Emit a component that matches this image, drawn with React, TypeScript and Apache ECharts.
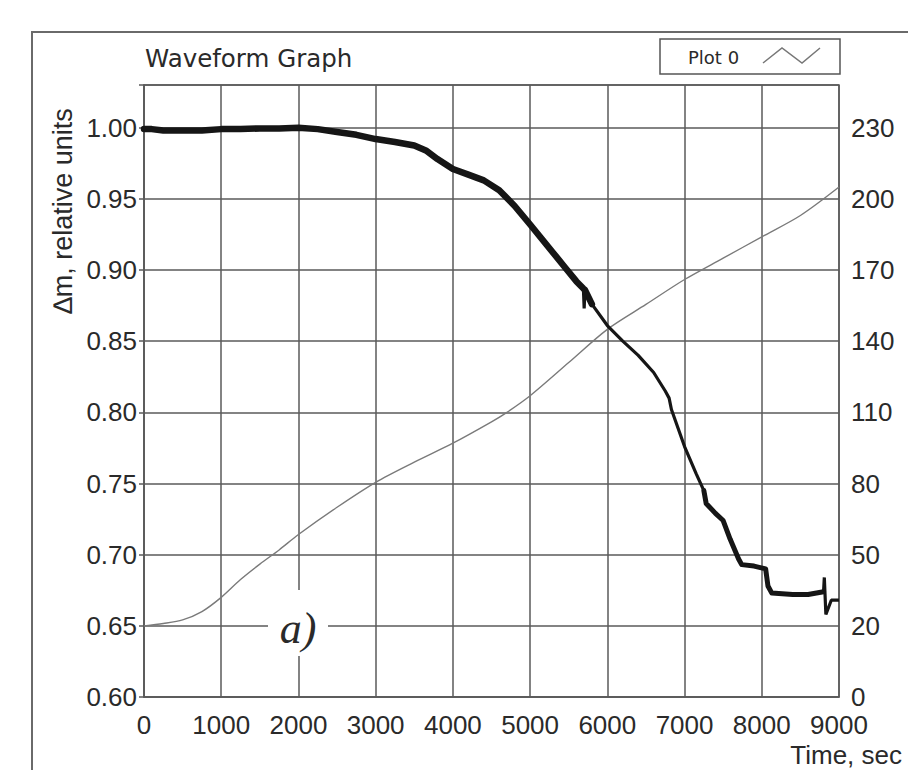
import React, { useEffect, useRef } from "react";
import * as echarts from "echarts";

// Mass loss (left axis), time in seconds
const massTime = [0, 100, 250, 500, 750, 1000, 1250, 1500, 1750, 2000, 2250, 2500, 2750, 3000, 3250, 3500, 3650, 3800, 4000, 4200, 4400, 4600, 4800, 5000, 5150, 5300, 5450, 5600, 5690, 5700, 5710, 5800, 6000, 6200, 6400, 6600, 6750, 6800, 6830, 7000, 7150, 7250, 7280, 7400, 7500, 7590, 7700, 7740, 7900, 8050, 8080, 8130, 8400, 8600, 8800, 8810, 8830, 8900, 9000];
const massValue = [0.999, 0.999, 0.998, 0.998, 0.998, 0.999, 0.999, 0.9995, 0.9995, 1.0, 0.999, 0.997, 0.995, 0.992, 0.99, 0.9875, 0.984, 0.978, 0.971, 0.967, 0.963, 0.956, 0.945, 0.932, 0.922, 0.912, 0.902, 0.892, 0.887, 0.873, 0.886, 0.876, 0.861, 0.85, 0.84, 0.828, 0.815, 0.81, 0.802, 0.776, 0.757, 0.745, 0.736, 0.729, 0.724, 0.711, 0.697, 0.693, 0.692, 0.69, 0.678, 0.673, 0.672, 0.672, 0.674, 0.684, 0.658, 0.668, 0.668];
// Short spikes in the record (times), drawn only with the thin core line
const massSpikeTimes = [5700, 8810, 8830];

// Temperature (right axis units)
const tempTime = [0, 250, 500, 750, 1000, 1250, 1500, 1750, 2000, 2500, 3000, 3500, 4000, 4500, 4700, 5000, 5500, 6000, 6500, 7000, 7500, 8000, 8500, 9000];
const tempValue = [20, 21, 22.5, 26, 32, 39.5, 46, 52, 58.5, 70, 80.5, 89, 97, 106, 110, 117, 131, 145, 155.5, 166, 175, 184, 193, 205];

const xTicks = [0, 1000, 2000, 3000, 4000, 5000, 6000, 7000, 8000, 9000];
const leftTickLabels = ["0.60", "0.65", "0.70", "0.75", "0.80", "0.85", "0.90", "0.95", "1.00"];
const rightTickValues = [-10, 20, 50, 80, 110, 140, 170, 200, 230];
const rightTickLabels = ["0", "20", "50", "80", "110", "140", "170", "200", "230"];

const LABEL_FONT = '"Liberation Sans", Arial, sans-serif';

export default function App() {
  const ref = useRef<HTMLDivElement>(null);
  useEffect(() => {
    if (!ref.current) return;
    const chart = echarts.init(ref.current, undefined, { renderer: "svg" });
    const gridColor = "#5a5a5a";
    const massPairs = massTime.map((t, i) => [t, massValue[i]]);
    const noSpikes = massPairs.filter((p) => massSpikeTimes.indexOf(p[0]) < 0);
    const noisyEarly = noSpikes.filter((p) => p[0] <= 5800);
    const noisyLate = noSpikes.filter((p) => p[0] >= 7250 && p[0] <= 8800);
    chart.setOption({
      animation: false,
      backgroundColor: "#ffffff",
      grid: {
        left: 144,
        right: 69,
        top: 85,
        bottom: 73,
        show: true,
        borderColor: gridColor,
        borderWidth: 1.5,
        containLabel: false,
      },
      xAxis: {
        type: "value",
        min: xTicks[0],
        max: xTicks[xTicks.length - 1],
        interval: 1000,
        axisLine: { show: true, onZero: false, lineStyle: { color: gridColor, width: 1.5 } },
        axisTick: { show: false },
        splitLine: { show: true, lineStyle: { color: gridColor, width: 1.5 } },
        axisLabel: {
          color: "#2a2a2a",
          fontSize: 26,
          fontFamily: LABEL_FONT,
          margin: 15,
          formatter: (v: number) => String(Math.round(v)),
        },
      },
      yAxis: [
        {
          type: "value",
          min: 0.6,
          max: 1.03,
          interval: 0.05,
          axisLine: { show: true, onZero: false, lineStyle: { color: gridColor, width: 1.5 } },
          axisTick: { show: true, length: 5, lineStyle: { color: gridColor, width: 1.5 } },
          splitLine: { show: true, lineStyle: { color: gridColor, width: 1.5 } },
          axisLabel: {
            color: "#2a2a2a",
            fontSize: 26,
            fontFamily: LABEL_FONT,
            margin: 7,
            formatter: (v: number) => {
              const idx = Math.round((v - 0.6) / 0.05);
              if (Math.abs(v - (0.6 + idx * 0.05)) > 0.001) return "";
              return leftTickLabels[idx] ?? "";
            },
          },
        },
        {
          type: "value",
          min: -10,
          max: 248,
          interval: 30,
          position: "right",
          axisLine: { show: false, onZero: false },
          axisTick: { show: false },
          splitLine: { show: false },
          axisLabel: {
            color: "#2a2a2a",
            fontSize: 26,
            fontFamily: LABEL_FONT,
            margin: 12,
            formatter: (v: number) => {
              const idx = rightTickValues.indexOf(Math.round(v));
              return idx >= 0 ? rightTickLabels[idx] : "";
            },
          },
        },
      ],
      series: [
        {
          type: "line",
          name: "Temperature",
          yAxisIndex: 1,
          data: tempTime.map((t, i) => [t, tempValue[i]]),
          showSymbol: false,
          smooth: 0.3,
          lineStyle: { color: "#7a7a7a", width: 1.4 },
          z: 3,
        },
        {
          type: "line",
          name: "Mass band early",
          yAxisIndex: 0,
          data: noisyEarly,
          showSymbol: false,
          lineStyle: { color: "#161616", width: 6.5, cap: "round", join: "round" },
          z: 4,
        },
        {
          type: "line",
          name: "Mass band late",
          yAxisIndex: 0,
          data: noisyLate,
          showSymbol: false,
          lineStyle: { color: "#161616", width: 5, cap: "round", join: "round" },
          z: 4,
        },
        {
          type: "line",
          name: "Mass",
          yAxisIndex: 0,
          data: massPairs,
          showSymbol: false,
          lineStyle: { color: "#161616", width: 3.2 },
          z: 5,
        },
      ],
      graphic: [
        {
          type: "polyline",
          shape: { points: [[32, 770], [32, 32], [908, 32]] },
          style: { stroke: "#6a6a6a", lineWidth: 2, fill: "none" },
          z: 10,
        },
        {
          type: "text",
          x: 145,
          y: 58,
          style: {
            text: "Waveform Graph",
            fontSize: 24.5,
            fontFamily: '"DejaVu Sans", sans-serif',
            fill: "#2a2a2a",
            verticalAlign: "middle",
            align: "left",
          },
          z: 10,
        },
        {
          type: "rect",
          shape: { x: 660, y: 39, width: 180, height: 35 },
          style: { stroke: "#555", lineWidth: 1.5, fill: "#fff" },
          z: 10,
        },
        {
          type: "text",
          x: 688,
          y: 57,
          style: {
            text: "Plot 0",
            fontSize: 18,
            fontFamily: '"DejaVu Sans", sans-serif',
            fill: "#2a2a2a",
            verticalAlign: "middle",
            align: "left",
          },
          z: 11,
        },
        {
          type: "polyline",
          shape: { points: [[763, 63], [782, 48], [802, 63], [820, 48]] },
          style: { stroke: "#777", lineWidth: 1.5, fill: "none" },
          z: 11,
        },
        {
          type: "text",
          x: 63,
          y: 211,
          rotation: Math.PI / 2,
          style: {
            text: "\u2206m, relative units",
            fontSize: 27,
            fontFamily: LABEL_FONT,
            fill: "#2a2a2a",
            verticalAlign: "middle",
            align: "center",
          },
          z: 10,
        },
        {
          type: "text",
          x: 902,
          y: 755,
          style: {
            text: "Time, sec",
            fontSize: 26,
            fontFamily: LABEL_FONT,
            fill: "#2a2a2a",
            verticalAlign: "middle",
            align: "right",
          },
          z: 10,
        },
        {
          type: "rect",
          shape: { x: 268, y: 590, width: 60, height: 66 },
          style: { fill: "#ffffff", lineWidth: 0 },
          z: 20,
        },
        {
          type: "text",
          x: 298,
          y: 628,
          style: {
            text: "a)",
            fontSize: 44,
            fontStyle: "italic",
            fontFamily: '"Liberation Serif", "Times New Roman", serif',
            fill: "#2a2a2a",
            verticalAlign: "middle",
            align: "center",
          },
          z: 21,
        },
      ],
    });
    return () => chart.dispose();
  }, []);
  return (
    <div
      ref={ref}
      style={{ position: "fixed", left: 0, top: 0, width: 908, height: 770, background: "#fff" }}
    />
  );
}
